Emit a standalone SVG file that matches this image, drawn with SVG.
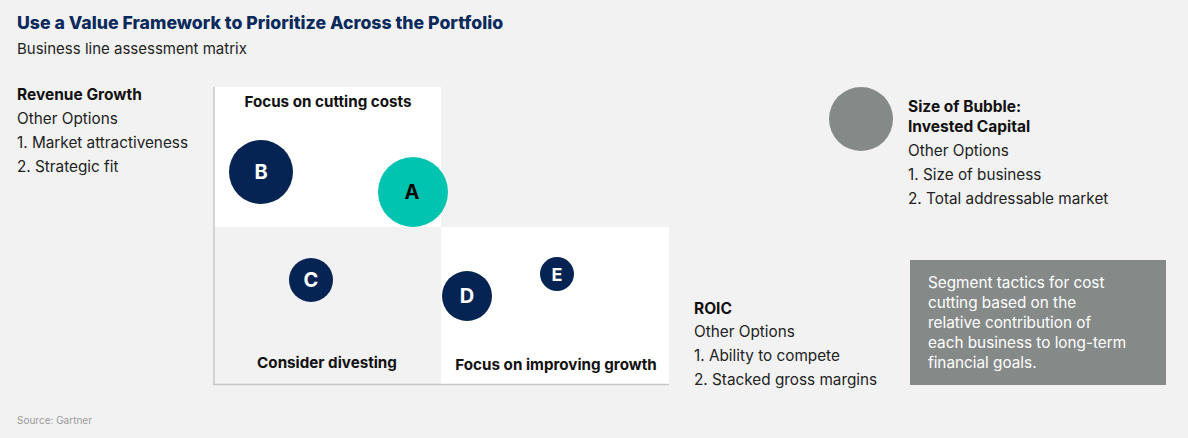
<svg xmlns="http://www.w3.org/2000/svg" width="1188" height="438" viewBox="0 0 1188 438">
<style>
text{font-family:Inter,"Liberation Sans",sans-serif;}
.t{font-size:17.7px;font-weight:800;fill:#0b2a5c;}
.sub{font-size:15px;fill:#222;}
.b{font-size:15.5px;font-weight:700;fill:#111;}
.r{font-size:15.3px;fill:#222;}
.q{font-size:15.2px;font-weight:700;fill:#111;text-anchor:middle;}
.bl{font-size:20px;font-weight:700;fill:#fff;text-anchor:middle;}
.nv{fill:#062453;}
.w{font-size:15.3px;fill:#fff;}
</style>
<rect width="1188" height="438" fill="#f2f2f2"/>
<text class="t" x="17" y="29">Use a Value Framework to Prioritize Across the Portfolio</text>
<text class="sub" x="17" y="54">Business line assessment matrix</text>
<g id="matrix">
<rect x="214" y="87" width="227" height="140" fill="#fff"/>
<rect x="441" y="227" width="228" height="157" fill="#fff"/>
<line x1="214" y1="87" x2="214" y2="385" stroke="#c8c8c8" stroke-width="1.5"/>
<line x1="213" y1="384.5" x2="669" y2="384.5" stroke="#c8c8c8" stroke-width="1.5"/>
<text class="q" x="328" y="107">Focus on cutting costs</text>
<text class="q" x="327" y="368">Consider divesting</text>
<text class="q" x="556" y="370">Focus on improving growth</text>
</g>
<g id="B"><circle class="nv" cx="261" cy="172" r="32"/><text class="bl" x="261" y="179">B</text></g>
<g id="A"><circle cx="413" cy="192" r="35" fill="#00c4b0"/><text class="bl" x="412" y="199" style="fill:#0a0a0a">A</text></g>
<g id="C"><circle class="nv" cx="311" cy="280" r="22"/><text class="bl" x="311" y="287">C</text></g>
<g id="D"><circle class="nv" cx="467" cy="296" r="25"/><text class="bl" x="467" y="303">D</text></g>
<g id="E"><circle class="nv" cx="557" cy="274" r="17"/><text class="bl" x="557" y="281" style="font-size:18px">E</text></g>
<g id="revenue">
<text class="b" x="17" y="100">Revenue Growth</text>
<text class="r" x="17" y="124">Other Options</text>
<text class="r" x="17" y="148">1. Market attractiveness</text>
<text class="r" x="17" y="172">2. Strategic fit</text>
</g>
<g id="bubble-legend">
<circle cx="861" cy="119" r="32" fill="#858a88"/>
<text class="b" x="908" y="112">Size of Bubble:</text>
<text class="b" x="908" y="132">Invested Capital</text>
<text class="r" x="908" y="156">Other Options</text>
<text class="r" x="908" y="180">1. Size of business</text>
<text class="r" x="908" y="204">2. Total addressable market</text>
</g>
<g id="roic">
<text class="b" x="694" y="314">ROIC</text>
<text class="r" x="694" y="337">Other Options</text>
<text class="r" x="694" y="361">1. Ability to compete</text>
<text class="r" x="694" y="385">2. Stacked gross margins</text>
</g>
<g id="note">
<rect x="910" y="260" width="256" height="125" fill="#858a88"/>
<text class="w" x="928" y="288">Segment tactics for cost</text>
<text class="w" x="928" y="308">cutting based on the</text>
<text class="w" x="928" y="328">relative contribution of</text>
<text class="w" x="928" y="348">each business to long-term</text>
<text class="w" x="928" y="368">financial goals.</text>
</g>
<text x="17" y="424" style="font-size:10px;fill:#9a9a9a">Source: Gartner</text>
</svg>
